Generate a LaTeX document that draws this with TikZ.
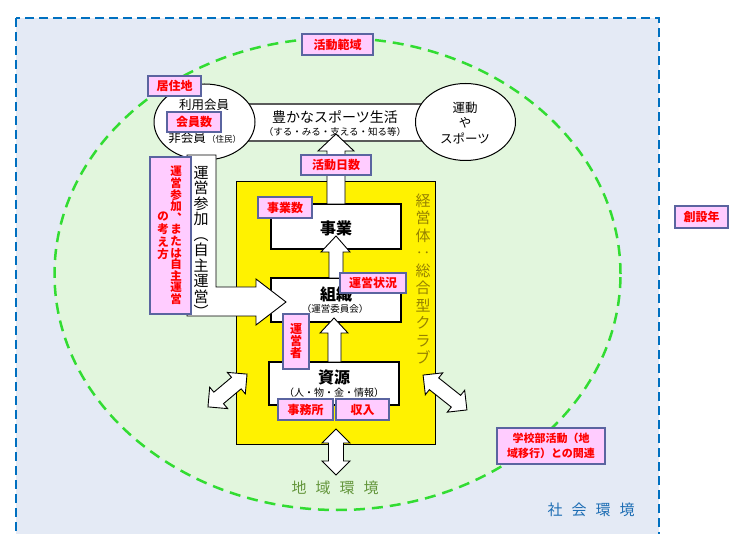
\documentclass[tikz,border=0pt]{standalone}
\usepackage{fontspec}
\setmainfont{Noto Sans CJK JP}
\definecolor{bgblue}{RGB}{228,234,245}
\definecolor{blueline}{RGB}{0,112,192}
\definecolor{greenline}{RGB}{50,220,50}
\definecolor{greenfill}{RGB}{226,246,221}
\definecolor{pinkfill}{RGB}{255,204,255}
\definecolor{pinkdraw}{RGB}{90,100,160}
\definecolor{olivetext}{RGB}{150,130,0}
\definecolor{chikitext}{RGB}{100,150,60}
\definecolor{shakaitext}{RGB}{30,110,180}
\definecolor{bandgray}{RGB}{90,90,90}
\tikzset{
  bgbox/.style={fill=bgblue, draw=blueline, line width=2.2pt, dash pattern=on 9pt off 5pt},
  greenzone/.style={fill=greenfill, draw=greenline, line width=2.5pt, dash pattern=on 11pt off 7pt},
  warrow/.style={draw=black, fill=white, line width=0.9pt, line join=miter},
  wbox/.style={draw=black, fill=white, line width=1.1pt},
  pinklabel/.style={draw=pinkdraw, fill=pinkfill, line width=1.1pt, text=red, inner sep=0pt,
    font=\bfseries\fontsize{12}{13}\selectfont, align=center},
  plain/.style={inner sep=0pt, align=center},
}
\newcommand\dblarr[3]{%
  \begin{scope}[shift={#1},rotate=#2]
    \draw[warrow] (-#3,0) -- (-#3+14,14) -- (-#3+14,7.5) -- (#3-14,7.5) -- (#3-14,14) -- (#3,0)
      -- (#3-14,-14) -- (#3-14,-7.5) -- (-#3+14,-7.5) -- (-#3+14,-14) -- cycle;
  \end{scope}}
\begin{document}
\begin{tikzpicture}[x=1pt,y=-1pt]
\useasboundingbox (0,0) rectangle (731,534);
\clip (0,0) rectangle (731,534);
\fill[white] (0,0) rectangle (731,534);
% social environment
\draw[bgbox] (16,18) rectangle (659,560);
% regional environment
\draw[greenzone] (337.5,274) ellipse [x radius=283pt, y radius=236pt];
% band
\draw[draw=bandgray, fill=white, line width=1.8pt] (240,104) rectangle (425,141);
\node[plain, font=\fontsize{14}{15}\selectfont] (life) at (335,117) {豊かなスポーツ生活};
\node[plain, font=\fontsize{9.5}{10}\selectfont] (lifesub) at (335,132) {（する・みる・支える・知る等）};
% circles
\draw[fill=white, line width=1pt] (204.5,122) ellipse [x radius=50.5pt, y radius=38pt];
\draw[fill=white, line width=1pt] (465.5,122) ellipse [x radius=50pt, y radius=38.5pt];
\node[plain, font=\fontsize{12.5}{13}\selectfont] (riyo) at (204,105) {利用会員};
\node[plain, font=\fontsize{12.5}{13}\selectfont, anchor=east] (hikai) at (206,138) {非会員};
\node[plain, font=\fontsize{8.5}{9}\selectfont, anchor=west] (jumin) at (207,139) {（住民）};
\node[plain, font=\fontsize{12.5}{15.5}\selectfont] (undo) at (465,123) {運動\\や\\スポーツ};
% yellow club
\draw[fill=yellow, draw=black, line width=1pt] (236,182) rectangle (435,444);
\node[plain, text=olivetext, font=\fontsize{15}{17.5}\selectfont] (keiei) at (423,279)
  {経\\営\\体\\‥\\総\\合\\型\\ク\\ラ\\ブ};
% boxes
\draw[wbox] (271,204) rectangle (401,249);
\draw[wbox] (271,278) rectangle (401,322);
\draw[wbox] (269,362) rectangle (399,405);
\node[plain, font=\bfseries\fontsize{16}{17}\selectfont] (jigyo) at (336,228) {事業};
\node[plain, font=\bfseries\fontsize{16}{17}\selectfont] (soshiki) at (336,294) {組織};
\node[plain, font=\fontsize{9.5}{10}\selectfont] (iinkai) at (335,309) {（運営委員会）};
\node[plain, font=\bfseries\fontsize{16}{17}\selectfont] (shigen) at (334,377) {資源};
\node[plain, font=\fontsize{10}{11}\selectfont] (hitomono) at (334,393) {（人・物・金・情報）};
% up arrows
\draw[warrow] (327,204) -- (327,151) -- (318,151) -- (336,134) -- (354,151) -- (345,151) -- (345,204) -- cycle;
\draw[warrow] (329,278) -- (329,252) -- (321,252) -- (336,236) -- (350,252) -- (343,252) -- (343,278) -- cycle;
\draw[warrow] (328,362) -- (328,333) -- (320,333) -- (334,318) -- (348,333) -- (341,333) -- (341,362) -- cycle;
% participation arrow
\draw[warrow] (187,155) -- (216,155) -- (216,287) -- (256,287) -- (256,279) -- (286,302) -- (256,325) -- (256,316) -- (187,316) -- cycle;
\node[plain, font=\fontsize{15}{15.5}\selectfont] (sanka) at (201,242)
  {運\\営\\参\\加\\︵\\自\\主\\運\\営\\︶};
% double arrows
\dblarr{(227.5,390.5)}{40}{25.5}
\dblarr{(445,392.5)}{-38.5}{28}
\dblarr{(336,452)}{90}{23}
% labels
\node[pinklabel, minimum width=71pt, minimum height=21pt] (l1) at (337.5,44.5) {活動範域};
\node[pinklabel, minimum width=53pt, minimum height=20pt] (l2) at (174.5,86) {居住地};
\node[pinklabel, minimum width=54pt, minimum height=20pt] (l3) at (194,122) {会員数};
\node[pinklabel, minimum width=70pt, minimum height=20pt] (l4) at (336,165) {活動日数};
\node[pinklabel, minimum width=54pt, minimum height=21pt] (l5) at (285,207.5) {事業数};
\node[pinklabel, minimum width=66pt, minimum height=20pt] (l6) at (373,283) {運営状況};
\node[pinklabel, minimum width=26pt, minimum height=55pt, font=\bfseries\fontsize{12}{12}\selectfont] (l7) at (296,341.5) {運\\営\\者};
\node[pinklabel, minimum width=55pt, minimum height=21pt] (l8) at (305.5,409.5) {事務所};
\node[pinklabel, minimum width=53pt, minimum height=21pt] (l9) at (362.5,409.5) {収入};
\node[pinklabel, minimum width=108pt, minimum height=36pt, font=\bfseries\fontsize{11}{15}\selectfont] (l10) at (551,446) {学校部活動（地\\域移行）との関連};
\node[pinklabel, minimum width=53pt, minimum height=22pt] (l11) at (701.5,217) {創設年};
\node[pinklabel, minimum width=41pt, minimum height=157pt] (l12) at (170.5,235.5) {};
\node[plain, text=red, font=\bfseries\fontsize{11.5}{11.6}\selectfont] (l12a) at (176,235.5)
  {運\\営\\参\\加\\︑\\ま\\た\\は\\自\\主\\運\\営};
\node[plain, text=red, font=\bfseries\fontsize{11.5}{12.6}\selectfont] (l12b) at (163,236)
  {の\\考\\え\\方};
% environment texts
\node[plain, text=chikitext, font=\fontsize{15}{16}\selectfont] (chiki) at (335,488)
  {地\hspace{9pt}域\hspace{9pt}環\hspace{9pt}境};
\node[plain, text=shakaitext, font=\fontsize{15}{16}\selectfont] (shakai) at (591,510)
  {社\hspace{9pt}会\hspace{9pt}環\hspace{9pt}境};
\end{tikzpicture}
\end{document}
